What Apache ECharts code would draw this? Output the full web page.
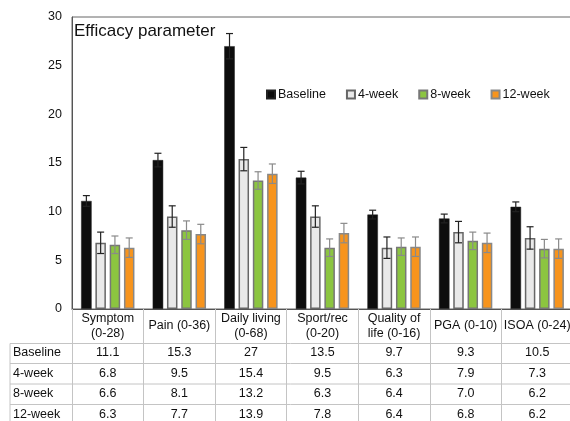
<!DOCTYPE html>
<html><head><meta charset="utf-8">
<script src="https://cdn.jsdelivr.net/npm/echarts@6/dist/echarts.min.js"></script>
<style>html,body{margin:0;padding:0;background:#fff}#c{width:570px;height:421px}</style>
</head><body><div id="c"></div>
<script>
const categories = ['Symptom\n(0-28)', 'Pain (0-36)', 'Daily living\n(0-68)', 'Sport/rec\n(0-20)', 'Quality of\nlife (0-16)', 'PGA (0-10)', 'ISOA (0-24)'];
const seriesNames = ['Baseline', '4-week', '8-week', '12-week'];
const baseline = [11.1, 15.3, 27, 13.5, 9.7, 9.3, 10.5];
const week4 = [6.8, 9.5, 15.4, 9.5, 6.3, 7.9, 7.3];
const week8 = [6.6, 8.1, 13.2, 6.3, 6.4, 7.0, 6.2];
const week12 = [6.3, 7.7, 13.9, 7.8, 6.4, 6.8, 6.2];
const errBaseline = [0.55, 0.7, 1.3, 0.65, 0.45, 0.45, 0.5];
const errWeek4 = [1.1, 1.1, 1.2, 1.1, 1.1, 1.1, 1.15];
const errWeek8 = [0.9, 0.95, 0.9, 0.9, 0.9, 0.9, 0.95];
const errWeek12 = [1.0, 1.0, 1.0, 1.0, 1.0, 1.0, 1.0];
const yTicks = [0, 5, 10, 15, 20, 25, 30];

const values = [baseline, week4, week8, week12];
const errors = [errBaseline, errWeek4, errWeek8, errWeek12];
const colors = ['#0d0d0d', '#e9e9e9', '#8cc540', '#f7941d'];
const borders = ['#222', '#666', '#777', '#888'];
const errColors = ['#222', '#222', '#8a8a8a', '#8a8a8a'];

const FONT = 'Liberation Sans, Arial, sans-serif';
const G = {left: 72, top: 17, width: 501, height: 292};
const BW = 10.5, GAP = 0.36, PITCH = BW * (1 + GAP);
const rowCenters = [44, 64.5, 85, 105.5];
const rowLines = [34.5, 54.5, 75, 95.5];

function fmt(v) { return (Number.isInteger(v) && v >= 10) ? String(v) : v.toFixed(1); }

const chart = echarts.init(document.getElementById('c'), null, {renderer: 'canvas'});

const xAxes = [{
  type: 'category', data: categories, gridIndex: 0, position: 'bottom',
  axisLine: {show: true, lineStyle: {color: '#555', width: 1}},
  axisTick: {show: true, interval: 0, length: 116, lineStyle: {color: '#c4c4c4'}},
  axisLabel: {interval: 0, margin: 17, verticalAlign: 'middle', lineHeight: 15, fontSize: 12.5, color: '#111', fontFamily: FONT}
}];
values.forEach((arr, r) => {
  xAxes.push({
    type: 'category', data: categories, gridIndex: 0, position: 'bottom', offset: rowCenters[r],
    axisLine: {show: false}, axisTick: {show: false},
    axisLabel: {interval: 0, margin: 0, verticalAlign: 'middle', fontSize: 12.5, color: '#111', fontFamily: FONT,
      formatter: (v, i) => fmt(arr[i])}
  });
});

const series = [];
values.forEach((arr, s) => {
  series.push({
    name: seriesNames[s], type: 'bar', xAxisIndex: 0, data: arr,
    barWidth: BW, barGap: (GAP * 100) + '%',
    itemStyle: {color: colors[s], borderColor: borders[s], borderWidth: s === 0 ? 0.5 : 1.5},
    z: 2
  });
});
values.forEach((arr, s) => {
  series.push({
    type: 'custom', xAxisIndex: 0, z: 5, silent: true,
    data: arr.map((v, i) => [i, v - errors[s][i], v + errors[s][i]]),
    encode: {x: 0, y: [1, 2]},
    renderItem: function (params, api) {
      const i = api.value(0);
      const hi = api.coord([i, api.value(2)]);
      const lo = api.coord([i, api.value(1)]);
      const x = hi[0] + (s - 1.5) * PITCH;
      const cw = 3.5;
      const st = {stroke: errColors[s], lineWidth: 1.2};
      return {type: 'group', children: [
        {type: 'line', shape: {x1: x, y1: hi[1], x2: x, y2: lo[1]}, style: st},
        {type: 'line', shape: {x1: x - cw, y1: hi[1], x2: x + cw, y2: hi[1]}, style: st},
        {type: 'line', shape: {x1: x - cw, y1: lo[1], x2: x + cw, y2: lo[1]}, style: st}
      ]};
    }
  });
});

const bottom = G.top + G.height;
const graphics = [];
rowLines.forEach(dy => {
  graphics.push({type: 'line', shape: {x1: 10, y1: bottom + dy, x2: 575, y2: bottom + dy}, style: {stroke: '#c4c4c4', lineWidth: 1}, z: 1});
});
graphics.push({type: 'line', shape: {x1: 10, y1: bottom + rowLines[0], x2: 10, y2: 425}, style: {stroke: '#c4c4c4', lineWidth: 1}});
seriesNames.forEach((n, r) => {
  graphics.push({type: 'text', x: 13, y: bottom + rowCenters[r], style: {text: n, fontSize: 12.5, fill: '#111', fontFamily: FONT, verticalAlign: 'middle', align: 'left'}});
});

chart.setOption({
  animation: false,
  backgroundColor: '#fff',
  title: {text: 'Efficacy parameter', left: 74, top: 23, padding: 0,
    textStyle: {fontSize: 17, fontWeight: 'normal', color: '#111', fontFamily: FONT}},
  legend: {data: seriesNames, left: 261, top: 83, itemWidth: 8, itemHeight: 8, itemGap: 20, icon: 'rect',
    textStyle: {fontSize: 12.5, color: '#111', fontFamily: FONT, padding: [0, 0, 0, -2]}},
  grid: Object.assign({show: true, borderColor: '#666', borderWidth: 1, containLabel: false, outerBoundsMode: 'none'}, G),
  xAxis: xAxes,
  yAxis: {type: 'value', min: yTicks[0], max: yTicks[yTicks.length - 1], interval: 5,
    axisLine: {show: true, lineStyle: {color: '#555'}}, axisTick: {show: false}, splitLine: {show: false},
    axisLabel: {margin: 10, fontSize: 12.5, color: '#111', fontFamily: FONT}},
  series: series,
  graphic: graphics
});
</script></body></html>
